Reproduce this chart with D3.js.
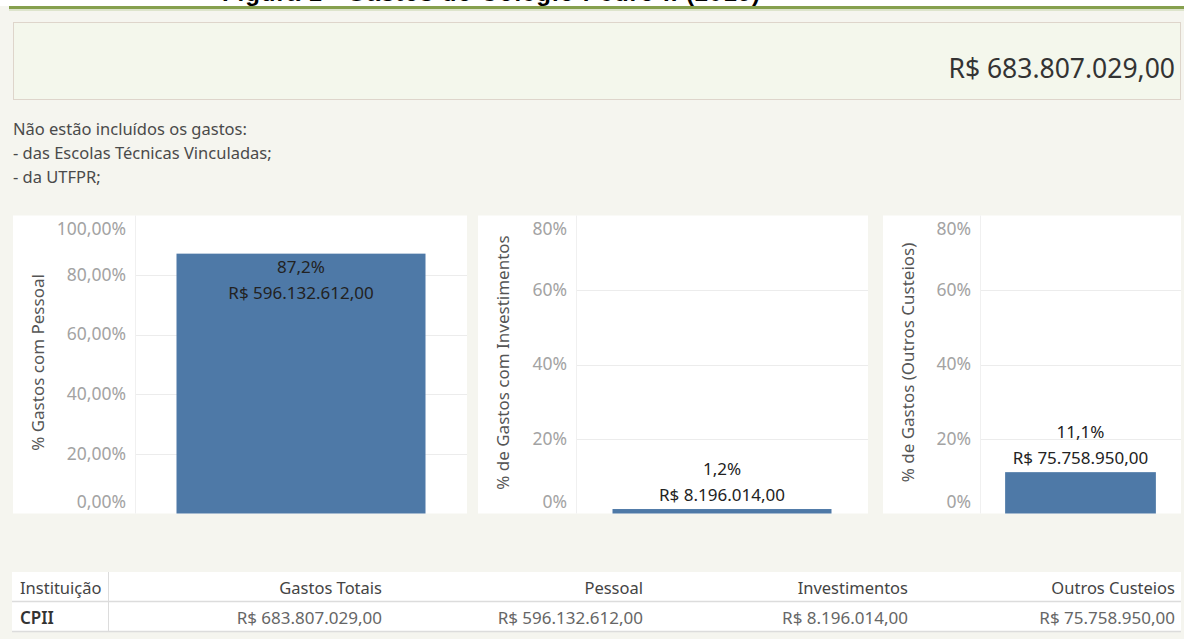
<!DOCTYPE html>
<html>
<head>
<meta charset="utf-8">
<script src="https://cdn.jsdelivr.net/npm/d3@7"></script>
<style>
    body { margin: 0; background: #f5f5ef; }
    svg { display: block; font-family: "Noto Sans", sans-serif; }
</style>
</head>
<body>
<div class="data_figure"></div>
<script>
// data
const titleText = "Figura 1 - Gastos do Colégio Pedro II (2019)";
const totalSpend = 683807029;
const notes = ["Não estão incluídos os gastos:", "- das Escolas Técnicas Vinculadas;", "- da UTFPR;"];
const categories = ["Pessoal", "Investimentos", "Outros Custeios"];
const axisTitles = ["% Gastos com Pessoal", "% de Gastos com Investimentos", "% de Gastos (Outros Custeios)"];
const shareValues = [0.872, 0.012, 0.111];
const spendValues = [596132612, 8196014, 75758950];
const axisMaxValues = [1.0, 0.8, 0.8];
const tickValues = [
    [0, 0.2, 0.4, 0.6, 0.8, 1.0],
    [0, 0.2, 0.4, 0.6, 0.8],
    [0, 0.2, 0.4, 0.6, 0.8]
];
const tickFormats = [".2%", ".0%", ".0%"];
const tableHeader = ["Instituição", "Gastos Totais", "Pessoal", "Investimentos", "Outros Custeios"];
const institution = "CPII";

const width = 1184;
const height = 639;

const barColor = "#4e79a7";

// panel layout: left edge, axis/plot split, right edge
const panels = [
    { left: 13, axis: 135, right: 467 },
    { left: 478, axis: 576, right: 868 },
    { left: 883, axis: 980, right: 1181 }
];
const plotTop = 215.5;
const plotBottom = 513.5;

const ptBR = d3.formatLocale({
    decimal: ",",
    thousands: ".",
    grouping: [3],
    currency: ["R$ ", ""]
});
const money = ptBR.format("$,.2f");
const pct = ptBR.format(".1%");

let svg = d3.select(".data_figure")
            .append("svg")
            .attr("width", width)
            .attr("height", height);

svg.append("rect")
    .attr("width", width).attr("height", height)
    .attr("fill", "#f5f5ef");

// title strip (cut off at the top of the capture)
svg.append("rect").attr("width", width).attr("height", 6).attr("fill", "#ffffff");
svg.append("text")
    .text(titleText)
    .attr("x", 222)
    .attr("y", 1)
    .attr("textLength", 538)
    .style("font-family", "'Liberation Sans', Arial, sans-serif")
    .style("font-weight", "bold")
    .style("font-size", "24px")
    .attr("fill", "#000");
svg.append("rect").attr("x", 9).attr("y", 6).attr("width", width - 9).attr("height", 3).attr("fill", "#86a04e");
svg.append("rect").attr("x", 9).attr("y", 9).attr("width", width - 9).attr("height", 2).attr("fill", "#dde4cc");

// KPI box
svg.append("rect")
    .attr("x", 13.5).attr("y", 22.5)
    .attr("width", 1167).attr("height", 77)
    .attr("fill", "#f4f7ec")
    .attr("stroke", "#c9b5a8")
    .attr("stroke-dasharray", "1,1");

svg.append("text")
    .text(money(totalSpend))
    .attr("x", 1175)
    .attr("y", 78)
    .attr("text-anchor", "end")
    .style("font-size", "26.5px")
    .attr("fill", "#333");

svg.selectAll(".note")
    .data(notes)
    .enter()
    .append("text")
    .attr("class", "note")
    .attr("x", 13)
    .attr("y", (d, i) => 135 + i * 24)
    .text((d) => d)
    .style("font-size", "16.5px")
    .attr("fill", "#4a4a4a");

// the three bar charts
categories.forEach((cat, i) => {
    const p = panels[i];
    let g = svg.append("g").attr("class", "panel");

    g.append("rect")
        .attr("x", p.left).attr("y", plotTop)
        .attr("width", p.right - p.left).attr("height", plotBottom - plotTop)
        .attr("fill", "#fff");

    g.append("line")
        .attr("x1", p.axis + 0.5).attr("x2", p.axis + 0.5)
        .attr("y1", plotTop).attr("y2", plotBottom)
        .attr("stroke", "#f0f0f0");

    const yScale = d3.scaleLinear()
            .domain([0, axisMaxValues[i]])
            .range([plotBottom, plotTop]);

    const xScale = d3.scaleBand()
            .domain([cat])
            .range([p.axis, p.right])
            .paddingInner(0.25)
            .paddingOuter(0.125);

    // gridlines
    g.selectAll(".grid")
        .data(tickValues[i].filter((v) => v > 0 && v < axisMaxValues[i]))
        .enter()
        .append("line")
        .attr("x1", p.axis + 1).attr("x2", p.right)
        .attr("y1", (d) => Math.round(yScale(d)) + 0.5)
        .attr("y2", (d) => Math.round(yScale(d)) + 0.5)
        .attr("stroke", "#ececec");

    let axis = g.append("g")
        .attr("transform", "translate(" + (p.axis - 9) + ", 0)")
        .call(d3.axisLeft(yScale)
                .tickValues(tickValues[i])
                .tickFormat(ptBR.format(tickFormats[i]))
                .tickSize(0)
                .tickPadding(0));
    axis.select(".domain").remove();
    axis.selectAll(".tick")
        .attr("transform", (d) => "translate(0," + Math.max(plotTop + 14, Math.min(plotBottom - 11.5, yScale(d))) + ")");
    axis.selectAll("text")
        .style("font-family", "'Noto Sans', sans-serif")
        .style("font-size", "17.5px")
        .attr("fill", "#a3a3a3");

    g.append("text")
        .text(axisTitles[i])
        .attr("transform", "rotate(-90)")
        .attr("x", -(plotTop + plotBottom) / 2 + 2)
        .attr("y", p.left + 25)
        .attr("dy", "0.35em")
        .attr("text-anchor", "middle")
        .style("font-size", "17px")
        .attr("fill", "#555");

    const barTop = yScale(shareValues[i]);
    g.append("rect")
        .attr("x", xScale(cat))
        .attr("y", barTop)
        .attr("width", xScale.bandwidth())
        .attr("height", plotBottom - barTop)
        .attr("fill", barColor);

    // labels inside the tall bar, above the short ones
    const inside = barTop < plotTop + 80;
    const labelY = inside ? [barTop + 13, barTop + 39] : [barTop - 40, barTop - 14];
    g.selectAll(".barLabel")
        .data([pct(shareValues[i]), money(spendValues[i])])
        .enter()
        .append("text")
        .attr("x", xScale(cat) + xScale.bandwidth() / 2)
        .attr("y", (d, k) => labelY[k])
        .attr("dy", "0.35em")
        .attr("text-anchor", "middle")
        .text((d) => d)
        .style("font-size", "17px")
        .attr("fill", "#222");
});

// summary table
const tableTop = 572;
const rowH = 30;
const colRight = [null, 382, 643, 908, 1175];
const rowValues = [institution, money(totalSpend)].concat(spendValues.map(money));

svg.append("rect")
    .attr("x", 12).attr("y", tableTop)
    .attr("width", 1169).attr("height", rowH * 2)
    .attr("fill", "#fff");

[tableTop + rowH, tableTop + rowH * 2].forEach((y) => {
    svg.append("line")
        .attr("x1", 12).attr("x2", 1181)
        .attr("y1", y - 0.5).attr("y2", y - 0.5)
        .attr("stroke", "#dcdcdc").attr("stroke-width", 1.5);
});
svg.append("line")
    .attr("x1", 108.5).attr("x2", 108.5)
    .attr("y1", tableTop).attr("y2", tableTop + rowH * 2)
    .attr("stroke", "#dcdcdc");

[tableHeader, rowValues].forEach((row, r) => {
    svg.selectAll(".cell" + r)
        .data(row)
        .enter()
        .append("text")
        .attr("x", (d, c) => c === 0 ? 20 : colRight[c])
        .attr("y", tableTop + rowH * r + 16)
        .attr("dy", "0.35em")
        .attr("text-anchor", (d, c) => c === 0 ? "start" : "end")
        .text((d) => d)
        .style("font-size", (d, c) => r === 0 ? "16.5px" : "17px")
        .style("font-weight", (d, c) => (r === 1 && c === 0) ? "600" : "normal")
        .attr("fill", (d, c) => r === 0 ? "#444" : (c === 0 ? "#333" : "#666"));
});
</script>
</body>
</html>
